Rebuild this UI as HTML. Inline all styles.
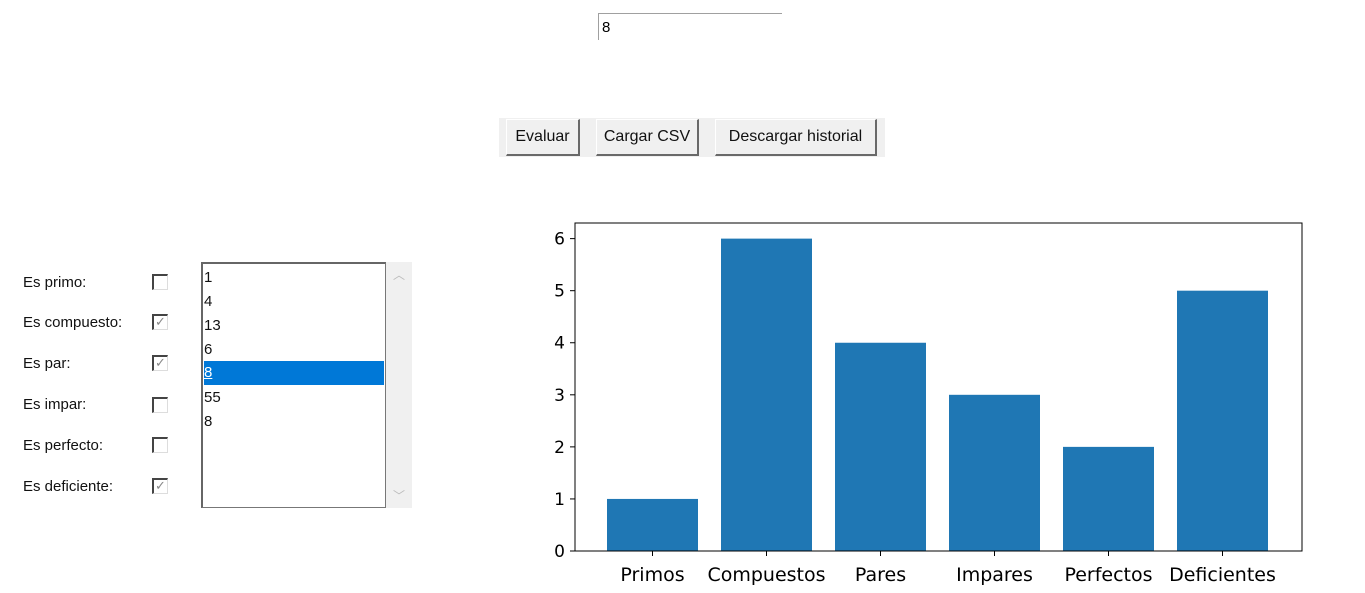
<!DOCTYPE html>
<html><head><meta charset="utf-8"><style>
body{margin:0;width:1365px;height:593px;background:#fff;position:relative;font-family:"Liberation Sans",sans-serif;overflow:hidden}
.abs{position:absolute}
.entry{left:598px;top:13px;width:184px;height:27px;border-top:1px solid #a0a0a0;border-left:1px solid #a0a0a0;box-sizing:border-box;font-size:15px;padding:5px 0 0 3px}
.bar-bg{left:499px;top:118px;width:386px;height:39px;background:#f0f0f0}
.btn{top:119px;height:37px;box-sizing:border-box;background:#f0f0f0;border:1px solid #fff;border-right:2px solid #696969;border-bottom:2px solid #696969;font-size:16px;text-align:center;line-height:34px;color:#111}
.lbl{left:23px;font-size:15px;color:#111}
.cb{left:152px;width:16px;height:16px;box-sizing:border-box;border-top:2px solid #444;border-left:2px solid #444;border-right:1px solid #ddd;border-bottom:1px solid #ddd;background:#fff;font-size:13px;line-height:12px;text-align:center;color:#888}
.list{left:201px;top:262px;width:185px;height:246px;box-sizing:border-box;border:1px solid #777;border-top:2px solid #666;border-left:2px solid #666}
.item{position:absolute;left:1px;width:180px;height:24px;font-size:15px;line-height:24px;color:#111}
.scroll{left:386px;top:262px;width:26px;height:246px;background:#f0f0f0;color:#bbb;font-size:12px;text-align:center}
</style></head><body>
<div class="abs entry">8</div>
<div class="abs bar-bg"></div>
<div class="abs btn" style="left:506px;width:74px">Evaluar</div>
<div class="abs btn" style="left:596px;width:103px">Cargar CSV</div>
<div class="abs btn" style="left:715px;width:162px">Descargar historial</div>

<div class="abs lbl" style="top:274px">Es primo:</div>
<div class="abs lbl" style="top:314px">Es compuesto:</div>
<div class="abs lbl" style="top:355px">Es par:</div>
<div class="abs lbl" style="top:396px">Es impar:</div>
<div class="abs lbl" style="top:437px">Es perfecto:</div>
<div class="abs lbl" style="top:478px">Es deficiente:</div>
<div class="abs cb" style="top:274px"></div>
<div class="abs cb" style="top:314px">✓</div>
<div class="abs cb" style="top:355px">✓</div>
<div class="abs cb" style="top:397px"></div>
<div class="abs cb" style="top:437px"></div>
<div class="abs cb" style="top:478px">✓</div>

<div class="abs list">
<div class="item" style="top:2px">1</div>
<div class="item" style="top:26px">4</div>
<div class="item" style="top:50px">13</div>
<div class="item" style="top:74px">6</div>
<div class="item" style="top:97px;background:#0078d7;color:#fff;text-decoration:underline">8</div>
<div class="item" style="top:122px">55</div>
<div class="item" style="top:146px">8</div>
</div>
<div class="abs scroll"><div style="margin-top:4px">︿</div><div style="position:absolute;bottom:4px;width:26px">﹀</div></div>

<svg class="abs" style="left:0;top:0" width="1365" height="593" id="chart"></svg>
<script>
const categories=["Primos","Compuestos","Pares","Impares","Perfectos","Deficientes"];
const values=[1,6,4,3,2,5];
const yTicks=[0,1,2,3,4,5,6];
const svg=document.getElementById('chart');
const NS='http://www.w3.org/2000/svg';
const L=575,R=1302,T=223,B=551;
const yMax=6.3;
const y=v=>B-v*(B-T)/yMax;
const step=114, first=652.5, bw=91;
const x=i=>first+i*step;
function mk(tag,attrs,txt){const e=document.createElementNS(NS,tag);for(const k in attrs)e.setAttribute(k,attrs[k]);if(txt!==undefined)e.textContent=txt;svg.appendChild(e);return e;}
values.forEach((v,i)=>{
 const r=mk('rect',{x:x(i)-bw/2,y:y(v),width:bw,height:B-y(v),fill:'#1f77b4'});
 
 
 const t=mk('text',{x:x(i),y:581,'text-anchor':'middle','font-size':'19','font-family':'DejaVu Sans, sans-serif',fill:'#000'},categories[i]);
 
 
 mk('line',{x1:x(i),x2:x(i),y1:B,y2:B+5,stroke:'#000'});
});
yTicks.forEach(v=>{
 mk('line',{x1:L-5,x2:L,y1:y(v),y2:y(v),stroke:'#000'});
 const t=mk('text',{x:L-10,y:y(v)+6,'text-anchor':'end','font-size':'17','font-family':'DejaVu Sans, sans-serif',fill:'#000'},v);
 
 
});
const f=mk('rect',{x:L,y:T,width:R-L,height:B-T,fill:'none',stroke:'#000','stroke-width':1});


</script>
</body></html>
